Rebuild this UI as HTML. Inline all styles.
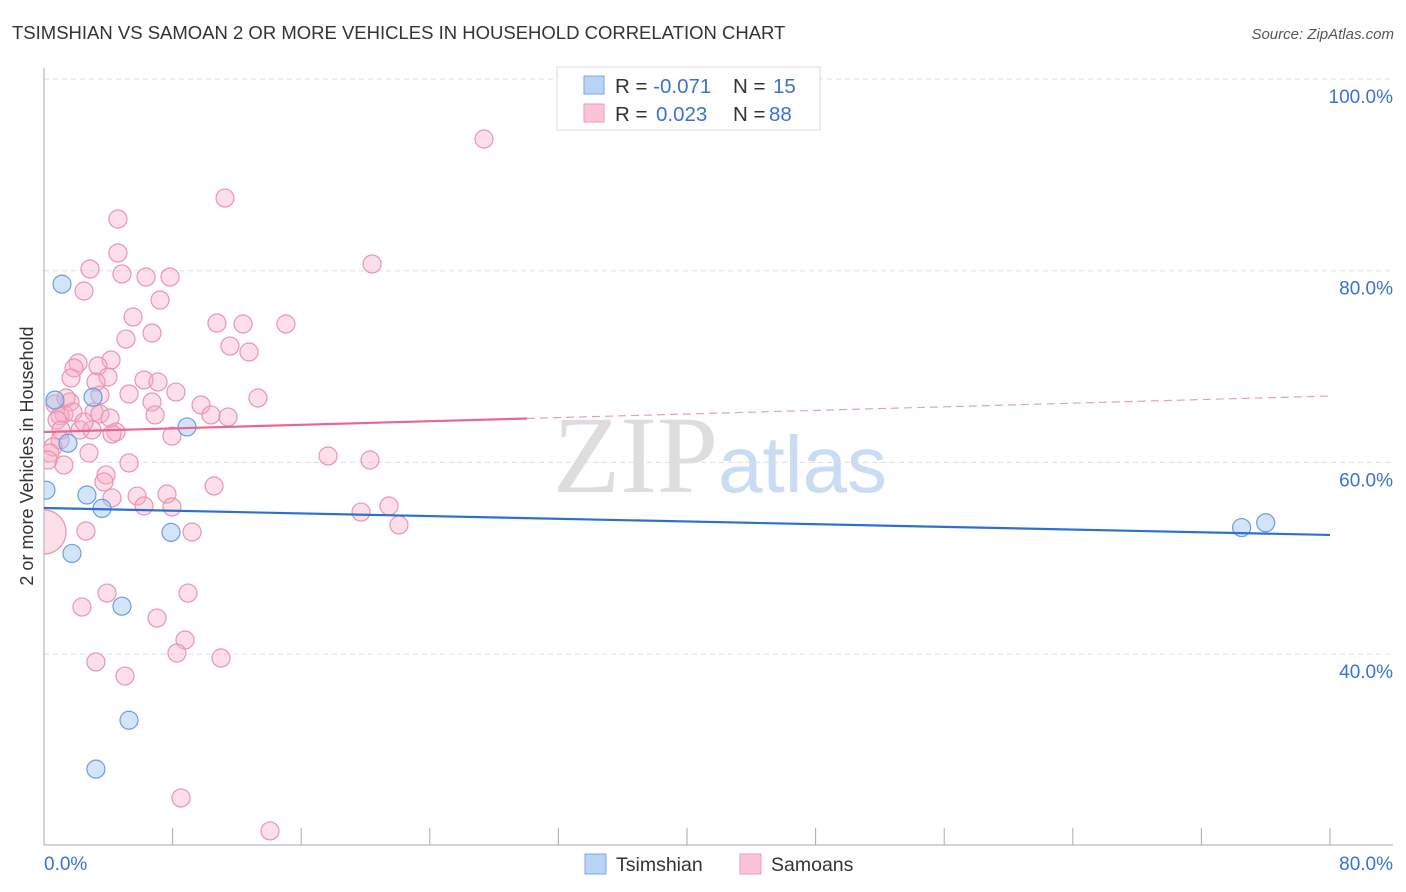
<!DOCTYPE html>
<html><head><meta charset="utf-8"><style>
body{margin:0;background:#fff;font-family:"Liberation Sans",sans-serif}
</style></head><body>
<svg id="c" width="1406" height="892" style="display:block">
<defs><clipPath id="plotclip"><rect x="44" y="60" width="1360" height="790"/></clipPath></defs>
<text x="12" y="39" font-size="18.5" fill="#333">TSIMSHIAN VS SAMOAN 2 OR MORE VEHICLES IN HOUSEHOLD CORRELATION CHART</text>
<text x="1394" y="39" font-size="15" fill="#555" font-style="italic" text-anchor="end">Source: ZipAtlas.com</text>
<text x="553" y="492" font-size="110" fill="#ddd" font-family="Liberation Serif,serif">ZIP</text>
<text x="718" y="492" font-size="80" fill="#c9dcf3">atlas</text>
<g id="grid"></g><g id="pts" clip-path="url(#plotclip)"></g><g id="lines"></g>
<text x="33" y="456" font-size="18" fill="#333" text-anchor="middle" transform="rotate(-90 33 456)">2 or more Vehicles in Household</text>
<g>
<rect x="557" y="67" width="263" height="63" fill="#fff" stroke="#ddd"/>
<rect x="584" y="76" width="20" height="18" fill="#b9d3f5" stroke="#7aa7e4"/>
<rect x="584" y="104" width="20" height="18" fill="#f9c4d3" stroke="#ee9bb5"/>
<text x="615" y="93" font-size="20.5" fill="#333">R = <tspan fill="#3a72d4">-0.071</tspan><tspan x="733">N = </tspan><tspan fill="#3a72d4" x="773">15</tspan></text>
<text x="615" y="121" font-size="20.5" fill="#333">R = <tspan fill="#3a72d4" x="656">0.023</tspan><tspan x="733">N = </tspan><tspan fill="#3a72d4" x="769">88</tspan></text>
</g>
<g>
<rect x="585" y="854" width="21" height="20" fill="#b9d3f5" stroke="#7aa7e4"/>
<text x="616" y="871" font-size="19.5" fill="#333">Tsimshian</text>
<rect x="740" y="854" width="21" height="20" fill="#f9c4d3" stroke="#ee9bb5"/>
<text x="771" y="871" font-size="19.5" fill="#333">Samoans</text>
</g>
</svg>
<script>
const yTicks=[100,80,60,40];
const yTickLabels=["100.0%","80.0%","60.0%","40.0%"];
const xTickLabels=["0.0%","80.0%"];
const tsimX=[0.12,1.12,0.68,3.05,1.49,2.67,3.61,1.74,8.90,7.90,4.85,5.29,3.23,74.5,76.0];
const tsimY=[57.1,78.6,66.5,66.8,62.0,56.6,55.2,50.5,63.7,52.7,45.0,33.1,28.0,53.2,53.7];
const samX=[27.37,11.26,4.60,4.60,20.41,2.86,4.85,6.35,7.84,2.49,7.22,5.54,6.72,10.76,12.38,15.05,5.10,11.57,12.75,4.17,2.12,1.87,3.36,3.98,1.68,6.22,7.09,8.21,5.29,13.31,3.48,0.68,1.62,6.72,9.77,3.11,1.24,3.48,1.00,6.91,10.39,11.45,0.81,2.24,2.99,4.48,4.23,7.96,1.00,0.56,2.80,0.37,1.24,5.29,17.67,20.28,3.86,3.73,10.58,4.23,5.79,7.65,6.22,7.96,21.46,19.72,22.08,2.61,9.21,3.92,2.36,8.96,7.03,8.77,8.27,3.23,11.01,5.04,8.52,14.06,0.25,1.37,1.80,1.06,2.49,4.11,3.23,0.0];
const samY=[93.74,87.58,85.39,81.85,80.70,80.18,79.66,79.34,79.34,77.88,76.94,75.17,73.50,74.54,74.44,74.44,72.87,72.14,71.52,70.68,70.37,69.85,70.06,68.91,68.81,68.60,68.39,67.34,67.14,66.72,67.03,66.09,66.30,66.30,65.99,65.26,65.05,65.05,64.85,64.95,64.95,64.74,64.42,63.38,63.38,63.17,62.96,62.75,62.34,61.61,60.98,60.98,59.73,59.94,60.67,60.25,58.69,57.96,57.54,56.29,56.49,56.70,55.45,55.35,55.45,54.82,53.47,52.84,52.74,46.37,44.91,46.37,43.76,41.47,40.11,39.18,39.59,37.71,24.99,21.55,60.25,66.72,65.26,63.38,64.21,64.63,68.39,52.74];
const tsimFit=[55.24,52.43];
const samFit=[63.17,66.93];
const samSolidEnd=30.05;
const NS="http://www.w3.org/2000/svg";
const X=v=>44+v/80*1286, Y=v=>79+(100-v)/20*191.7;
function mk(t,a,p){const e=document.createElementNS(NS,t);for(const k in a)e.setAttribute(k,a[k]);document.getElementById(p).appendChild(e);return e;}
yTicks.forEach((t,i)=>{
 const g=mk('line',{x1:44,x2:1393,y1:Y(t),y2:Y(t),stroke:'#ddd','stroke-dasharray':'5,4'},'grid');
 
 
 const l=mk('text',{x:1393,y:Y(t)+24,'font-size':19,fill:'#3a72d4','text-anchor':'end'},'grid');
 l.textContent=yTickLabels[i];
 
 
});
mk('line',{x1:44,x2:44,y1:68,y2:845,stroke:'#aaa'},'grid');
mk('line',{x1:44,x2:1393,y1:845,y2:845,stroke:'#aaa'},'grid');
for(let i=0;i<=10;i++){const tk=mk('line',{x1:X(i*8),x2:X(i*8),y1:828,y2:845,stroke:'#aaa'},'grid');
 
 }
[[0,44,'start'],[1,1393,'end']].forEach(([i,x,a])=>{const t=mk('text',{x:x,y:870,'font-size':19,fill:'#3a72d4','text-anchor':a},'grid');t.textContent=xTickLabels[i];
 
 });
samX.forEach((v,i)=>{const big=(i===samX.length-1);
 const c=mk('circle',{cx:X(v),cy:Y(samY[i]),r:big?22:9,fill:'rgba(246,170,195,0.38)',stroke:'#eb94b1','stroke-width':1.2},'pts');
 
 });
tsimX.forEach((v,i)=>{const c=mk('circle',{cx:X(v),cy:Y(tsimY[i]),r:9,fill:'rgba(160,196,240,0.45)',stroke:'#6a9ee0','stroke-width':1.2},'pts');
 
 });
const sm=samFit[0]+(samFit[1]-samFit[0])*samSolidEnd/80;
let a=mk('line',{x1:X(0),y1:Y(samFit[0]),x2:X(samSolidEnd),y2:Y(sm),stroke:'#e8688f','stroke-width':2.2},'lines');


a=mk('line',{x1:X(samSolidEnd),y1:Y(sm),x2:X(80),y2:Y(samFit[1]),stroke:'#e8a0b6','stroke-width':1.2,'stroke-dasharray':'8,5'},'lines');


a=mk('line',{x1:X(0),y1:Y(tsimFit[0]),x2:X(80),y2:Y(tsimFit[1]),stroke:'#2f6fd0','stroke-width':2.2},'lines');


</script>
</body></html>
